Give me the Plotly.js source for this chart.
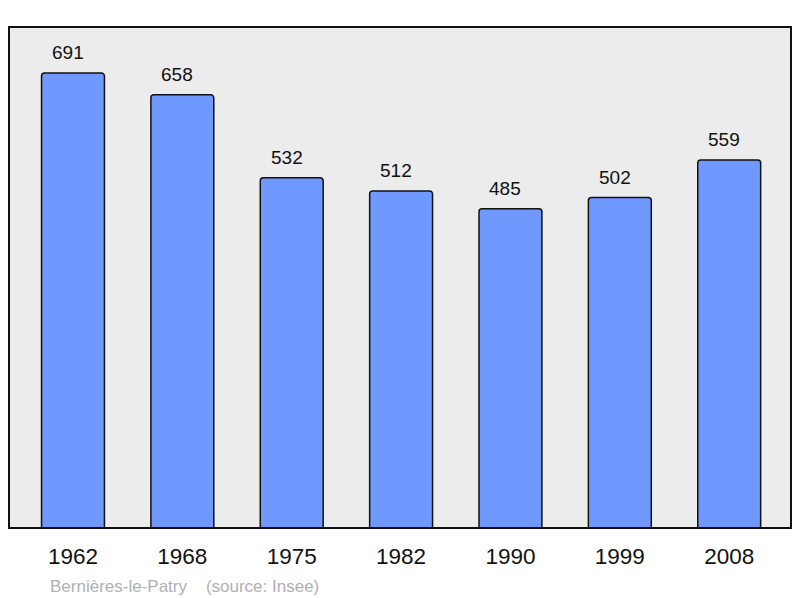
<!DOCTYPE html>
<html><head><meta charset="utf-8">
<script src="https://cdn.plot.ly/plotly-3.0.1.min.js"></script>
<style>html,body{margin:0;padding:0;background:#fff}#c{width:800px;height:598px}</style>
</head><body><div id="c"></div>
<script>
const years = ["1962","1968","1975","1982","1990","1999","2008"];
const population = [691,658,532,512,485,502,559];
const sourceText = "Bernières-le-Patry    (source: Insee)";

const xs = years.map((_, i) => i);
const trace = {
  type: 'bar', x: xs, y: population, width: 0.575,
  marker: {color: '#7099ff', line: {color: '#111', width: 1.5}, cornerradius: 3},
  hoverinfo: 'skip'
};
const annotations = xs.map((x, i) => ({
  x: x, y: population[i], xref: 'x', yref: 'y', text: String(population[i]),
  showarrow: false, yanchor: 'bottom', yshift: 8, xshift: -5,
  font: {family: 'Liberation Sans, Arial, sans-serif', size: 19, color: '#111'}
}));
annotations.push({
  xref: 'paper', yref: 'paper', x: 0.05, y: -0.094, xanchor: 'left', yanchor: 'top',
  text: sourceText, showarrow: false,
  font: {family: 'Liberation Sans, Arial, sans-serif', size: 17, color: '#b0b0b0'}
});
const layout = {
  width: 800, height: 598,
  margin: {l: 9, r: 9, t: 27, b: 70},
  paper_bgcolor: '#ffffff', plot_bgcolor: '#ececec',
  showlegend: false,
  xaxis: {range: [-0.585, 6.565], tickvals: xs, ticktext: years, showgrid: false, zeroline: false,
          ticks: 'outside', ticklen: 8, tickcolor: 'rgba(0,0,0,0)',
          tickfont: {family: 'Liberation Sans, Arial, sans-serif', size: 22.5, color: '#111'},
          fixedrange: true},
  yaxis: {range: [0, 761], showgrid: false, zeroline: false, showticklabels: false, fixedrange: true},
  shapes: [{type: 'rect', xref: 'paper', yref: 'paper', x0: 0, x1: 1, y0: 0, y1: 1,
            line: {color: '#111', width: 2}, fillcolor: 'rgba(0,0,0,0)', layer: 'above'}],
  annotations: annotations
};
Plotly.newPlot('c', [trace], layout, {staticPlot: true});
</script></body></html>
